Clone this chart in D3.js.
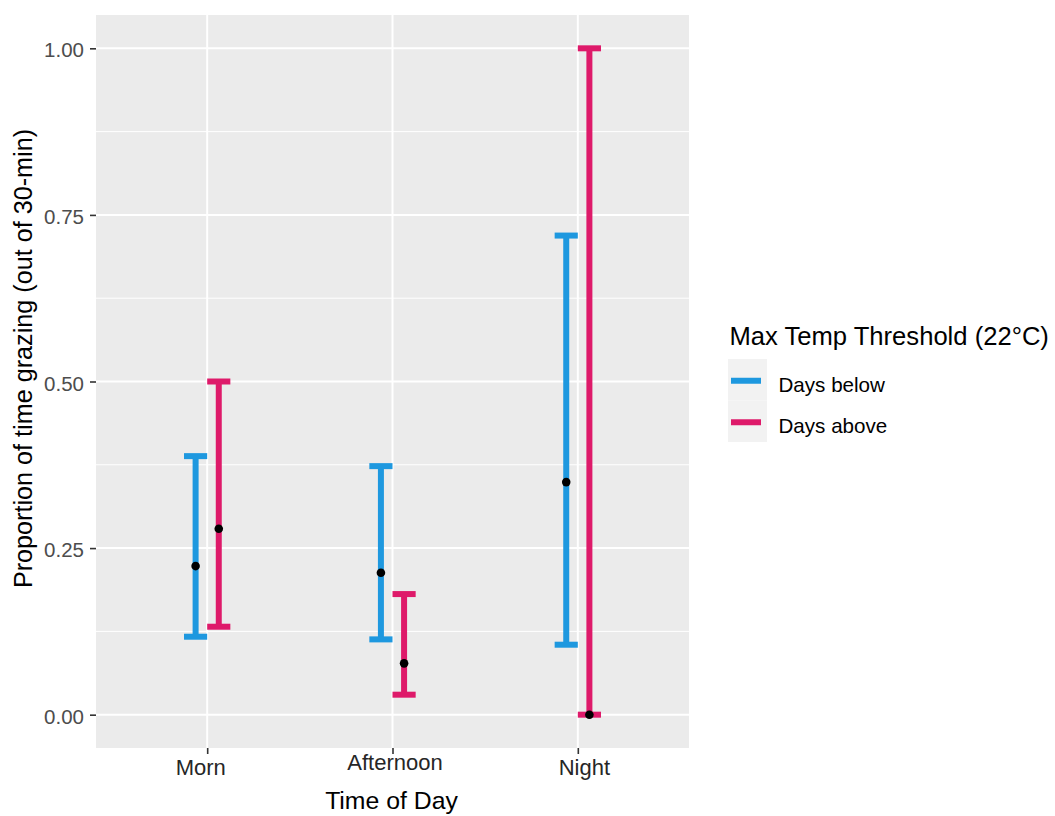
<!DOCTYPE html>
<html>
<head>
<meta charset="utf-8">
<script src="https://cdn.jsdelivr.net/npm/d3@7"></script>
<style>
  body { margin: 0; background: #fff; }
  text { font-family: "Liberation Sans", Arial, sans-serif; }
</style>
</head>
<body>
<svg id="chart" width="1055" height="816"></svg>
<script>
// Time-of-day periods on the x axis
const periods = ["Morn", "Afternoon", "Night"];

// Grouping by daily maximum temperature
const groups = ["Days below", "Days above"];
const groupColors = ["#1E98DF", "#DE1A6A"];

// Proportion of time grazing: lower bound, estimate, upper bound per period
const lowerBelow = [0.117, 0.113, 0.105];
const meanBelow  = [0.223, 0.213, 0.349];
const upperBelow = [0.388, 0.373, 0.719];

const lowerAbove = [0.132, 0.030, 0.000];
const meanAbove  = [0.279, 0.077, 0.000];
const upperAbove = [0.500, 0.181, 1.000];

// Axis breaks
const yTicks = [0, 0.25, 0.5, 0.75, 1];
const yMinorTicks = [0.125, 0.375, 0.625, 0.875];

// Titles
const xTitle = "Time of Day";
const yTitle = "Proportion of time grazing (out of 30-min)";
const legendTitle = "Max Temp Threshold (22\u00B0C)";

// ---- layout ----
const panel = { left: 96, top: 15, right: 689, bottom: 748 };
const dodge = 0.0625;      // half of the dodge width, in category units
const capHalf = 0.0625;    // half of the error-bar cap width
const barWidth = 6;

const svg = d3.select("#chart");

const x = d3.scaleLinear().domain([0.4, 3.6]).range([panel.left, panel.right]);
const y = d3.scaleLinear().domain([-0.05, 1.05]).range([panel.bottom, panel.top]);

// rows for drawing
const series = [
  { lower: lowerBelow, mean: meanBelow, upper: upperBelow },
  { lower: lowerAbove, mean: meanAbove, upper: upperAbove }
];
const rows = [];
series.forEach((s, g) => {
  periods.forEach((p, i) => {
    rows.push({
      period: p,
      group: g,
      pos: i + 1 + (g === 0 ? -dodge : dodge),
      lower: s.lower[i],
      mean: s.mean[i],
      upper: s.upper[i]
    });
  });
});

// panel background
svg.append("rect")
  .attr("x", panel.left).attr("y", panel.top)
  .attr("width", panel.right - panel.left)
  .attr("height", panel.bottom - panel.top)
  .attr("fill", "#EBEBEB");

const grid = svg.append("g");
grid.selectAll(".minor").data(yMinorTicks).join("line")
  .attr("x1", panel.left).attr("x2", panel.right)
  .attr("y1", d => y(d)).attr("y2", d => y(d))
  .attr("stroke", "#fff").attr("stroke-width", 1);
grid.selectAll(".majorY").data(yTicks).join("line")
  .attr("x1", panel.left).attr("x2", panel.right)
  .attr("y1", d => y(d)).attr("y2", d => y(d))
  .attr("stroke", "#fff").attr("stroke-width", 2);
grid.selectAll(".majorX").data(periods).join("line")
  .attr("x1", (d, i) => x(i + 1)).attr("x2", (d, i) => x(i + 1))
  .attr("y1", panel.top).attr("y2", panel.bottom)
  .attr("stroke", "#fff").attr("stroke-width", 2);

// y axis
const yAxis = svg.append("g")
  .attr("transform", `translate(${panel.left},0)`)
  .call(d3.axisLeft(y).tickValues(yTicks).tickFormat(d3.format(".2f")).tickSize(6).tickPadding(6));
yAxis.select(".domain").remove();
yAxis.selectAll(".tick line").attr("stroke", "#333").attr("stroke-width", 1.6);
yAxis.selectAll(".tick text")
  .attr("fill", "#4D4D4D").attr("font-size", 20.5)
  .attr("dy", null).attr("y", 8.5)
  .attr("font-family", "Liberation Sans, Arial, sans-serif");

// x axis
const xAxis = svg.append("g")
  .attr("transform", `translate(0,${panel.bottom})`)
  .call(d3.axisBottom(x).tickValues([1, 2, 3]).tickFormat(d => periods[d - 1]).tickSize(6).tickPadding(4));
xAxis.select(".domain").remove();
xAxis.selectAll(".tick line").attr("stroke", "#333").attr("stroke-width", 1.6);
const xLabelNudge = [[-7, 27], [2, 22], [6, 27]];
xAxis.selectAll(".tick text")
  .attr("fill", "#262626").attr("font-size", 22)
  .attr("font-family", "Liberation Sans, Arial, sans-serif")
  .attr("dy", null)
  .attr("x", (d, i) => xLabelNudge[i][0])
  .attr("y", (d, i) => xLabelNudge[i][1]);

// error bars
const bars = svg.append("g");
const eb = bars.selectAll("g.eb").data(rows).join("g")
  .attr("stroke", d => groupColors[d.group])
  .attr("stroke-width", barWidth);
eb.append("line")
  .attr("x1", d => x(d.pos)).attr("x2", d => x(d.pos))
  .attr("y1", d => y(d.lower)).attr("y2", d => y(d.upper));
eb.append("line")
  .attr("x1", d => x(d.pos - capHalf)).attr("x2", d => x(d.pos + capHalf))
  .attr("y1", d => y(d.upper)).attr("y2", d => y(d.upper));
eb.append("line")
  .attr("x1", d => x(d.pos - capHalf)).attr("x2", d => x(d.pos + capHalf))
  .attr("y1", d => y(d.lower)).attr("y2", d => y(d.lower));

// point estimates
svg.append("g").selectAll("circle").data(rows).join("circle")
  .attr("cx", d => x(d.pos)).attr("cy", d => y(d.mean))
  .attr("r", 4.3).attr("fill", "#000");

// axis titles
svg.append("text")
  .attr("x", (panel.left + panel.right) / 2 - 1).attr("y", 809)
  .attr("text-anchor", "middle").attr("font-size", 24.8).attr("fill", "#000")
  .text(xTitle);
svg.append("text")
  .attr("transform", "translate(32,358.5) rotate(-90)")
  .attr("text-anchor", "middle").attr("font-size", 25.2).attr("fill", "#000")
  .text(yTitle);

// legend
const legend = svg.append("g").attr("transform", "translate(728,359)");
legend.append("text")
  .attr("x", 1.5).attr("y", -14)
  .attr("font-size", 25.6).attr("fill", "#000")
  .text(legendTitle);
const keyH = 41.5;
const item = legend.selectAll("g.item").data(groups).join("g")
  .attr("transform", (d, i) => `translate(0,${i * keyH})`);
item.append("rect")
  .attr("width", 39).attr("height", keyH).attr("fill", "#F2F2F2");
item.append("line")
  .attr("x1", 3).attr("x2", 33)
  .attr("y1", keyH / 2 + 1).attr("y2", keyH / 2 + 1)
  .attr("stroke", (d, i) => groupColors[i]).attr("stroke-width", barWidth);
item.append("text")
  .attr("x", 50.5).attr("y", keyH / 2 + 12)
  .attr("font-size", 20.6).attr("fill", "#000")
  .text(d => d);
</script>
</body>
</html>
